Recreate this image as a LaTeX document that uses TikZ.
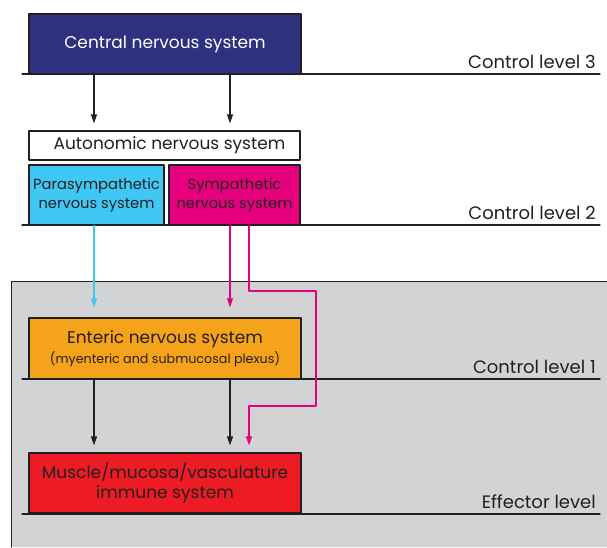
\documentclass[tikz,border=0pt]{standalone}
\usepackage{fontspec}
\setmainfont{Poppins}
\usetikzlibrary{arrows.meta}

\begin{document}
\begin{tikzpicture}[x=1pt, y=-1pt, line cap=round, line join=round,
  box/.style={draw=nsline, line width=1.3pt, minimum height=60pt, inner sep=0pt,
    align=center, text=nsline, font=\fontsize{17}{20}\selectfont},
  level/.style={draw=nsline, line width=1.3pt},
  levlab/.style={anchor=base east, inner sep=0pt, text=nsline, font=\fontsize{18}{20}\selectfont},
  arr/.style={-{Triangle[length=9pt, width=6pt]}, line width=1.1pt, shorten >=7pt},
]
\definecolor{nsline}{HTML}{231F20}
\definecolor{nspanel}{HTML}{D1D3D4}
\definecolor{nscns}{HTML}{2E3180}
\definecolor{nspara}{HTML}{3FC8F4}
\definecolor{nssymp}{HTML}{E6007E}
\definecolor{nsens}{HTML}{F6A31C}
\definecolor{nseff}{HTML}{ED1C24}
\useasboundingbox (0,0) rectangle (607,547);
% ---- grey panel for the gut wall ----
\fill[nspanel] (11,281) rectangle (607,547);
\draw[nsline, line width=1pt] (11,547) -- (11,281) -- (607,281);
% ---- columns for the connectors ----
\coordinate (colL) at (94,0);
\coordinate (colR) at (230,0);
\coordinate (colS) at (249,0);
\coordinate (loopT) at (316,291);
\coordinate (loopB) at (316,406);
% ---- boxes ----
\node[box, fill=nscns, text=white, minimum width=272pt] (cns) at (165,44) {Central nervous system};
\node[box, fill=white, minimum width=271pt, minimum height=29pt] (ans) at (164.5,145.5) {\hspace{10pt}Autonomic nervous system};
\node[box, fill=nspara, minimum width=135pt, font=\fontsize{14.7}{19}\selectfont] (para) at (96.5,195) {Parasympathetic\\nervous system};
\node[box, fill=nssymp, minimum width=131pt, font=\fontsize{14.7}{19}\selectfont] (symp) at (234.5,195) {Sympathetic\\nervous system};
\node[box, fill=nsens, minimum width=272pt, minimum height=61pt] (ens) at (165,348.5) {Enteric nervous system\\{\fontsize{12.7}{15}\selectfont (myenteric and submucosal plexus)}};
\node[box, fill=nseff, minimum width=272pt] (eff) at (165,483) {Muscle/mucosa/vasculature\\immune system};
% ---- levels ----
\foreach \y/\lab/\n in {74/Control level 3/l3, 225/Control level 2/l2, 379/Control level 1/l1, 514/Effector level/le} {
  \draw[level] (22,\y) -- (600,\y);
  \node[levlab] (\n) at (596,\y-6) {\lab};
}
% ---- connectors ----
\draw[arr, nsline] (cns.south -| colL) -- (ans.north -| colL);
\draw[arr, nsline] (cns.south -| colR) -- (ans.north -| colR);
\draw[arr, nspara, shorten >=10pt] (para.south -| colL) -- (ens.north -| colL);
\draw[arr, nssymp, shorten >=10pt] (symp.south -| colR) -- (ens.north -| colR);
\draw[arr, nssymp] (symp.south -| colS) |- (loopT) -- (loopB) -| (eff.north -| colS);
\draw[arr, nsline] (ens.south -| colL) -- (eff.north -| colL);
\draw[arr, nsline] (ens.south -| colR) -- (eff.north -| colR);
\end{tikzpicture}
\end{document}
